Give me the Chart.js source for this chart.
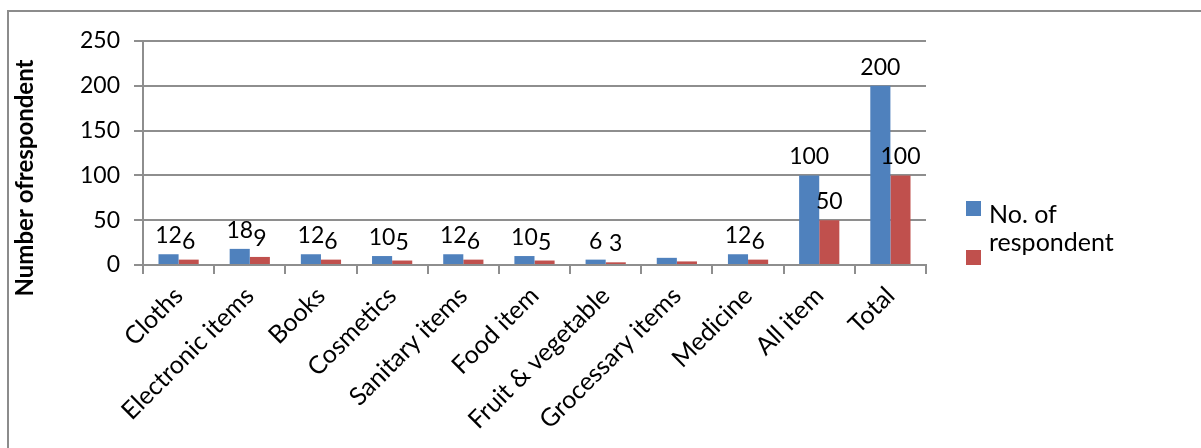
<!DOCTYPE html>
<html lang="en">

<head>
    <meta charset="UTF-8">
    <title>Number of respondent by item</title>
    <script src="https://cdn.jsdelivr.net/npm/chart.js"></script>
    <style>
        body {
            margin: 0;
            background: #fff;
        }
        .chart-wrap {
            position: relative;
            width: 1201px;
            height: 448px;
        }
        /* frame line along the top and left edge */
        .chart-wrap .frame {
            position: absolute;
            left: 7px;
            top: 10px;
            right: 0;
            bottom: 0;
            border-top: 2px solid #8c8c8c;
            border-left: 2px solid #8c8c8c;
            pointer-events: none;
        }
    </style>
</head>

<body>
<div class="chart-wrap">
    <canvas id="myChart" width="1201" height="448"></canvas>
    <div class="frame"></div>
</div>
<script>
    const categories = ['Cloths', 'Electronic items', 'Books', 'Cosmetics', 'Sanitary items', 'Food item',
        'Fruit & vegetable', 'Grocessary items', 'Medicine', 'All item', 'Total'];
    const respondents = [12, 18, 12, 10, 12, 10, 6, 8, 12, 100, 200];
    const percentages = [6, 9, 6, 5, 6, 5, 3, 4, 6, 50, 100];
    const seriesNames = ['No. of respondent', ''];
    const unlabelled = ['Grocessary items']; // no value labels shown here
    const yMax = 250;
    const yStep = 50;
    const yTitle = 'Number ofrespondent';

    const BLUE = '#4f81bd';
    const RED = '#c0504d';
    const GRID = '#8e8e8e';
    const FONT = 'Lato, "Open Sans", sans-serif';

    Chart.defaults.font.family = FONT;
    Chart.defaults.color = '#000';

    // value labels above each bar
    const valueLabels = {
        id: 'valueLabels',
        afterDatasetsDraw(chart) {
            const ctx = chart.ctx;
            ctx.save();
            ctx.font = '23px ' + FONT;
            ctx.fillStyle = '#000';
            ctx.textAlign = 'center';
            ctx.textBaseline = 'alphabetic';
            chart.data.datasets.forEach((ds, di) => {
                chart.getDatasetMeta(di).data.forEach((bar, i) => {
                    if (unlabelled.includes(categories[i])) return;
                    ctx.fillText(String(ds.data[i]), bar.x, bar.y - 11);
                });
            });
            ctx.restore();
        }
    };

    // rotated axis title and the legend on the right
    const sideText = {
        id: 'sideText',
        afterDraw(chart) {
            const ctx = chart.ctx;
            const area = chart.chartArea;
            ctx.save();

            ctx.font = 'bold 24px ' + FONT;
            ctx.fillStyle = '#000';
            ctx.textAlign = 'center';
            ctx.textBaseline = 'middle';
            ctx.translate(25, (area.top + area.bottom) / 2 + 25);
            ctx.rotate(-Math.PI / 2);
            ctx.fillText(yTitle, 0, 0);
            ctx.setTransform(1, 0, 0, 1, 0, 0);

            // legend
            ctx.font = '25px ' + FONT;
            ctx.textAlign = 'left';
            ctx.textBaseline = 'alphabetic';
            const boxX = area.right + 40;
            const textX = boxX + 23;
            const tops = [area.bottom - 64, area.bottom - 15];
            chart.data.datasets.forEach((ds, di) => {
                ctx.fillStyle = ds.backgroundColor;
                ctx.fillRect(boxX, tops[di], 15, 15);
                // simple word wrap
                const words = ds.label.split(' ').filter(w => w);
                const lines = [];
                let line = '';
                words.forEach(w => {
                    const test = line ? line + ' ' + w : w;
                    if (line && ctx.measureText(test).width > 150) {
                        lines.push(line);
                        line = w;
                    } else {
                        line = test;
                    }
                });
                if (line) lines.push(line);
                ctx.fillStyle = '#000';
                lines.forEach((l, li) => ctx.fillText(l, textX, tops[di] + 22 + li * 28));
            });
            ctx.restore();
        }
    };

    const ctx = document.getElementById('myChart').getContext('2d');
    new Chart(ctx, {
        type: 'bar',
        data: {
            labels: categories,
            datasets: [{
                label: seriesNames[0],
                data: respondents,
                backgroundColor: BLUE
            }, {
                label: seriesNames[1],
                data: percentages,
                backgroundColor: RED
            }]
        },
        options: {
            responsive: false,
            animation: false,
            layout: {
                padding: {top: 41, right: 275, bottom: 0, left: 0}
            },
            datasets: {
                bar: {
                    categoryPercentage: 0.565,
                    barPercentage: 1
                }
            },
            plugins: {
                legend: {display: false},
                tooltip: {enabled: false}
            },
            scales: {
                x: {
                    grid: {
                        drawOnChartArea: false,
                        color: GRID,
                        lineWidth: 2,
                        tickLength: 9
                    },
                    border: {color: GRID, width: 2},
                    ticks: {
                        font: {size: 25},
                        maxRotation: 45,
                        minRotation: 45,
                        padding: 7
                    },
                    afterFit(scale) {
                        scale.height = 183;
                    }
                },
                y: {
                    min: 0,
                    max: yMax,
                    ticks: {
                        stepSize: yStep,
                        font: {size: 23},
                        padding: 14
                    },
                    grid: {
                        color: GRID,
                        lineWidth: 2,
                        tickLength: 9
                    },
                    border: {color: GRID, width: 2},
                    afterFit(scale) {
                        scale.width = 143;
                    }
                }
            }
        },
        plugins: [valueLabels, sideText]
    });
</script>
</body>

</html>
